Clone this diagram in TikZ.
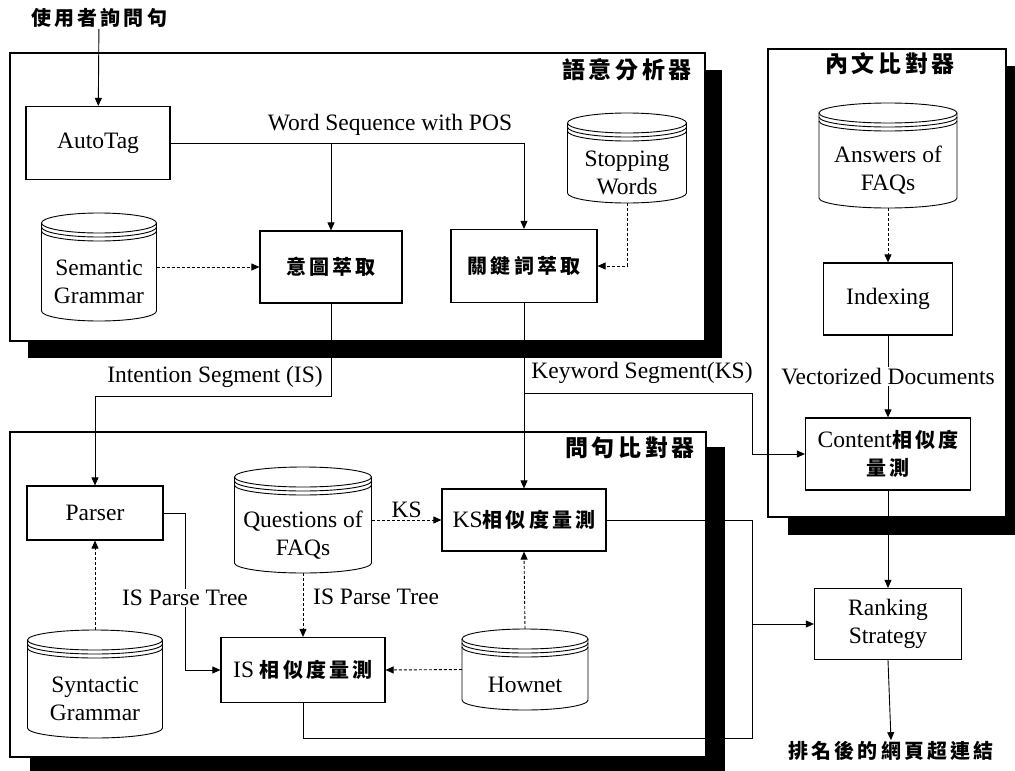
\documentclass[tikz,border=0pt]{standalone}
\usepackage{fontspec}
\setmainfont{Liberation Serif}
\newfontfamily\cjk{Noto Sans CJK TC}[LetterSpace=16]
\usetikzlibrary{arrows.meta}

% database drawn as a stacked cylinder: name, centre x, top y, bottom y, width, text
\newcommand\dbase[6]{%
  \pgfmathsetmacro\dbcx{#2}%
  \pgfmathsetmacro\dbty{#3}%
  \pgfmathsetmacro\dbby{#4}%
  \pgfmathsetmacro\dbrx{#5/2}%
  \pgfmathsetmacro\dbh{#4-#3}%
  \pgfmathsetmacro\dbmid{(#3+#4)/2}%
  \pgfmathsetmacro\dbtxt{(#3+30+#4)/2}%
  \node[dbslot, minimum width=#5pt, minimum height=\dbh pt] (#1) at (\dbcx,\dbmid) {};
  \draw[dbline] (\dbcx,\dbty+10) ellipse [x radius=\dbrx pt, y radius=10pt];
  \draw[dbline] (\dbcx-\dbrx,\dbty+14) arc [start angle=180, end angle=360, x radius=\dbrx pt, y radius=10pt];
  \draw[dbline] (\dbcx-\dbrx,\dbty+18) arc [start angle=180, end angle=360, x radius=\dbrx pt, y radius=10pt];
  \draw[dbline] (\dbcx-\dbrx,\dbty+10) -- (\dbcx-\dbrx,\dbby-10)
     arc [start angle=180, end angle=360, x radius=\dbrx pt, y radius=10pt]
     -- (\dbcx+\dbrx,\dbty+10);
  \node[dbtext] (#1-t) at (\dbcx,\dbtxt) {#6};
}
% Chinese text inside boxes
\newcommand\zh[1]{{\cjk\fontsize{20}{28}\selectfont\bfseries #1}}

\begin{document}
\begin{tikzpicture}[x=1pt, y=-1pt,
  lat/.style={font=\fontsize{23.5}{28}\selectfont},
  proc/.style={draw, line width=1.2pt, fill=white, inner sep=0pt, align=center, lat},
  frame/.style={draw, line width=1.6pt, fill=white},
  shade/.style={fill=black},
  dbslot/.style={draw=none, inner sep=0pt},
  dbline/.style={line width=0.9pt},
  dbtext/.style={align=center, inner sep=0pt, lat},
  link/.style={line width=0.9pt},
  flow/.style={link, -{Triangle[length=8pt,width=7pt]}},
  feed/.style={flow, dash pattern=on 3pt off 2pt},
  tag/.style={lat, inner sep=1pt},
  title/.style={font=\fontsize{23}{26}\selectfont\cjk\bfseries, inner sep=0pt},
  note/.style={font=\fontsize{20}{26}\selectfont\cjk\bfseries, inner sep=1pt}
]
\useasboundingbox (0,0) rectangle (1015,771);
\clip (0,0) rectangle (1015,771);

% ---- group frames with drop shadows ----
\fill[shade] (28,70) rectangle (722,358);
\draw[frame] (10,53) rectangle (705,341);
\fill[shade] (788,66) rectangle (1030,535);
\draw[frame] (768,49) rectangle (1006,517);
\fill[shade] (30,447) rectangle (725,780);
\draw[frame] (10,432) rectangle (706,757);

\node[title] (t1) at (627,70) {語意分析器};
\node[title] (t2) at (890,64) {內文比對器};
\node[title] (t3) at (630,448) {問句比對器};

% ---- semantic analyser ----
\node[note] (query) at (99,18) {使用者詢問句};
\node[proc, minimum width=144pt, minimum height=73pt] (autotag) at (98,143) {AutoTag};
\node[proc, minimum width=142pt, minimum height=72pt] (intent) at (331,267) {\zh{意圖萃取}};
\node[proc, minimum width=146pt, minimum height=73pt] (keyword) at (524,266) {\zh{關鍵詞萃取}};
\dbase{semgram}{99}{213}{321}{115}{Semantic\\Grammar}
\dbase{stopw}{627}{113}{203}{119}{Stopping\\Words}

% ---- content matcher ----
\dbase{answers}{888}{103}{208}{138}{Answers of\\FAQs}
\node[proc, minimum width=129pt, minimum height=72pt] (indexing) at (888,299) {Indexing};
\node[proc, minimum width=165pt, minimum height=72pt] (content) at (888,454) {Content\zh{相似度}\\\zh{量測}};
\node[proc, minimum width=147pt, minimum height=71pt] (ranking) at (888,624) {Ranking\\Strategy};
\node[note] (result) at (891,751) {排名後的網頁超連結};

% ---- question matcher ----
\node[proc, minimum width=136pt, minimum height=54pt] (parser) at (95,513) {Parser};
\dbase{syngram}{95}{630}{738}{135}{Syntactic\\Grammar}
\dbase{questions}{303}{467}{573}{137}{Questions of\\FAQs}
\node[proc, minimum width=164pt, minimum height=62pt] (kssim) at (524,520) {KS\zh{相似度量測}};
\node[proc, minimum width=164pt, minimum height=65pt] (issim) at (303,670) {IS \zh{相似度量測}};
\dbase{hownet}{525}{629}{710}{126}{Hownet}

% ---- connectors ----
\draw[flow] (query) -- (autotag);
\draw[flow] (autotag.east) -| (keyword.north);
\coordinate (wsfork) at (autotag.east -| intent.north);
\draw[flow] (wsfork) -- (intent.north);
\node[tag] (wslabel) at (390,125) {Word Sequence with POS};
\draw[feed] (semgram.east) -- (intent.west);
\draw[feed] (stopw.south) |- (keyword.east);

\draw[flow] (intent.south) -- ++(0,93) -| (parser.north);
\node[tag] (islabel) at (215,377) {Intention Segment (IS)};
\draw[flow] (keyword.south) -- (kssim.north);
\coordinate (ksfork) at (524,393);
\coordinate (ksbend) at (752,393);
\draw[flow] (ksfork) -- (ksbend) |- (content.west);
\node[tag] (kslabel) at (642,373) {Keyword Segment(KS)};

\draw[feed] (answers.south) -- (indexing.north);
\draw[flow] (indexing.south) -- node[tag, fill=white] (vdlabel) {Vectorized Documents} (content.north);
\draw[flow] (content.south) -- (ranking.north);
\draw[flow] (ranking.south) -- (result.north);

\draw[feed] (syngram.north) -- (parser.south);
\draw[flow] (parser.east) -- ++(22,0) |- (issim.west);
\node[tag, fill=white] (pt1) at (185,598) {IS Parse Tree};
\draw[feed] (questions.east) -- node[tag, above=1pt] (kstag) {KS} (kssim.west);
\draw[feed] (questions.south) -- (issim.north);
\node[tag, anchor=west] (pt2) at (312,597) {IS Parse Tree};
\draw[feed] (hownet.west) -- (issim.east);
\draw[feed] (hownet.north) -- (kssim.south);

\coordinate (rankin) at (752,624);
\draw[link] (kssim.east) -| (rankin);
\draw[link] (issim.south) -- ++(0,35) -| (rankin);
\draw[flow] (rankin) -- (ranking.west);
\end{tikzpicture}
\end{document}
